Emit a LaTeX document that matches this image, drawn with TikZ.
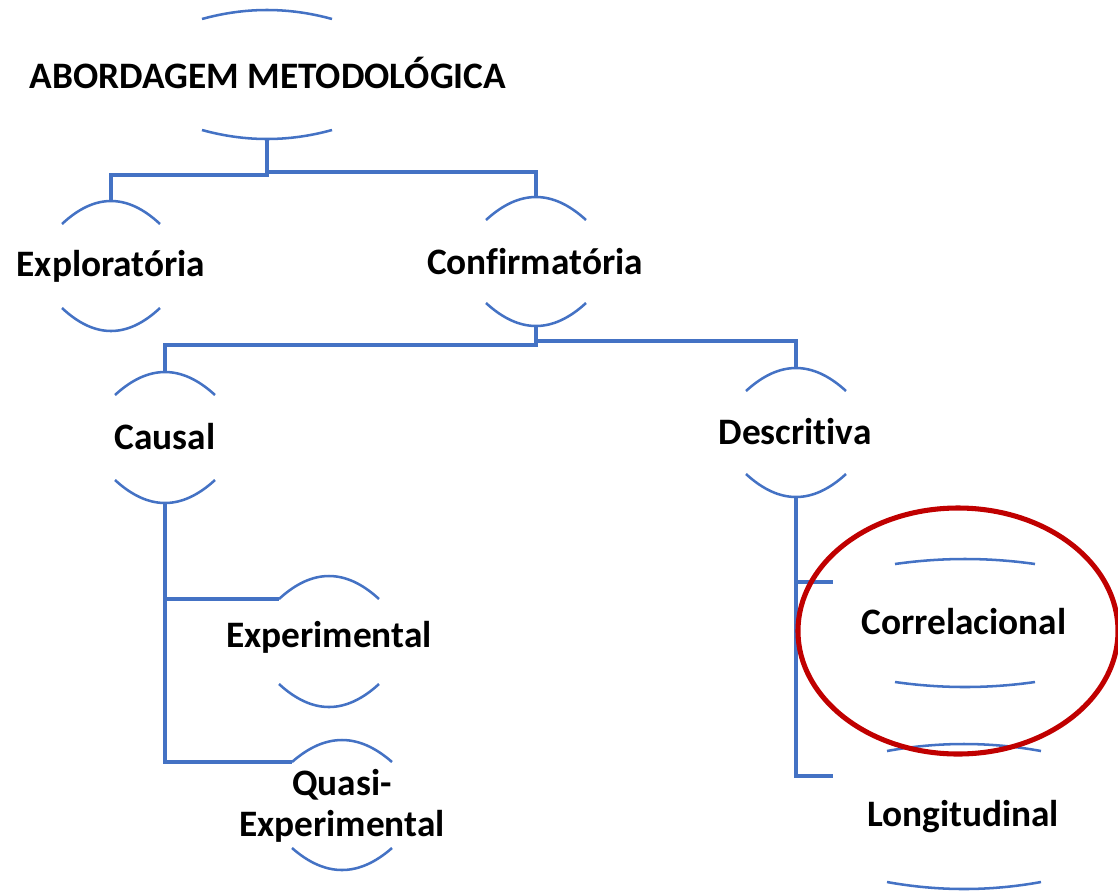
\documentclass[tikz,border=0pt]{standalone}
\usepackage{fontspec}
\setmainfont{Carlito}[Ligatures=NoCommon]
\definecolor{arcblue}{HTML}{4472C4}
\definecolor{ringred}{HTML}{C00000}
\tikzset{
  arcline/.style={draw=arcblue, line width=1.9pt},
  conn/.style={draw=arcblue, line width=2.4pt},
  lbl/.style={font=\fontsize{28}{31}\selectfont\bfseries, align=center, inner sep=0pt},
  ring/.style={draw=ringred, line width=3.8pt},
}
% two arcs round a label: name, x, top y, bottom y, half width, sag
\newcommand{\brackets}[6]{%
  \coordinate (#1-t) at ({#2},{#3-#6});
  \coordinate (#1-b) at ({#2},{#4+#6});
  \coordinate (#1-l) at ({#2-#5},{#3});
  \draw[arcline] (#1-l) .. controls ({#2-#5/3},{#3-4*#6/3}) and ({#2+#5/3},{#3-4*#6/3}) .. ({#2+#5},{#3});
  \draw[arcline] ({#2-#5},{#4}) .. controls ({#2-#5/3},{#4+4*#6/3}) and ({#2+#5/3},{#4+4*#6/3}) .. ({#2+#5},{#4});
}
\begin{document}
\begin{tikzpicture}[x=0.75pt, y=-0.75pt]
    \useasboundingbox (0,0) rectangle (1118,890);
    % labels
    \node[lbl] (root) at (268,73) {ABORDAGEM METODOLÓGICA};
    \node[lbl] (expl) at (111,266) {Exploratória};
    \node[lbl] (conf) at (535,262) {Confirmatória};
    \node[lbl] (caus) at (165,437) {Causal};
    \node[lbl] (desc) at (795,432) {Descritiva};
    \node[lbl] (exp) at (329,637) {Experimental};
    \node[lbl] (quasi) at (342,806) {Quasi-\\Experimental};
    \node[lbl] (corr) at (964,622) {Correlacional};
    \node[lbl] (long) at (963,817) {Longitudinal};
    % arcs
    \brackets{root}{267}{19}{130}{65}{9}
    \brackets{expl}{111}{224}{308}{49}{23}
    \brackets{conf}{536}{220}{303}{50}{23}
    \brackets{caus}{165}{395}{480}{50}{23}
    \brackets{desc}{796}{391}{474}{50}{23}
    \brackets{exp}{329}{599}{684}{50}{23}
    \brackets{quasi}{342}{762}{848}{50}{22}
    \brackets{corr}{965}{564}{682}{70}{5}
    \brackets{long}{964}{751}{882}{77}{7}
    \coordinate (corr-in) at (833,582);
    \coordinate (long-in) at (833,776);
    % connectors
    \draw[conn] (root-b) -- ++(0,36) -| (expl-t);
    \draw[conn] (root-b) -- ++(0,33) -| (conf-t);
    \draw[conn] (conf-b) -- ++(0,19) -| (caus-t);
    \draw[conn] (conf-b) -- ++(0,15) -| (desc-t);
    \draw[conn] (caus-b) |- (exp-l);
    \draw[conn] (caus-b) |- (quasi-l);
    \draw[conn] (desc-b) |- (corr-in);
    \draw[conn] (desc-b) |- (long-in);
    % highlight
    \draw[ring] (958,631) ellipse [x radius=160, y radius=123];
\end{tikzpicture}
\end{document}
